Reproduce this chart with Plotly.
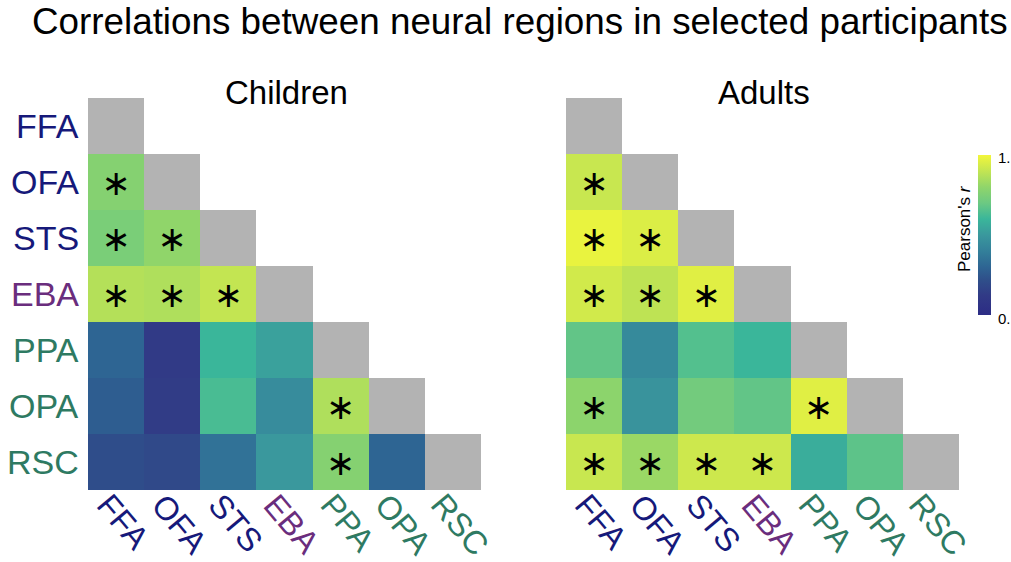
import plotly.graph_objects as go

regions = ["FFA", "OFA", "STS", "EBA", "PPA", "OPA", "RSC"]
label_colors = ["#16197a", "#16197a", "#16197a", "#6a2d7d", "#2e7a62", "#2e7a62", "#2e7a62"]

children_r = [
    [None, None, None, None, None, None, None],
    [0.77, None, None, None, None, None, None],
    [0.74, 0.80, None, None, None, None, None],
    [0.87, 0.86, 0.90, None, None, None, None],
    [0.30, 0.12, 0.60, 0.53, None, None, None],
    [0.27, 0.13, 0.63, 0.45, 0.86, None, None],
    [0.21, 0.19, 0.35, 0.50, 0.77, 0.30, None],
]
children_sig = [
    [0, 0, 0, 0, 0, 0, 0],
    [1, 0, 0, 0, 0, 0, 0],
    [1, 1, 0, 0, 0, 0, 0],
    [1, 1, 1, 0, 0, 0, 0],
    [0, 0, 0, 0, 0, 0, 0],
    [0, 0, 0, 0, 1, 0, 0],
    [0, 0, 0, 0, 1, 0, 0],
]
adults_r = [
    [None, None, None, None, None, None, None],
    [0.91, None, None, None, None, None, None],
    [0.98, 0.95, None, None, None, None, None],
    [0.93, 0.89, 0.96, None, None, None, None],
    [0.68, 0.44, 0.65, 0.60, None, None, None],
    [0.79, 0.48, 0.72, 0.68, 0.96, None, None],
    [0.91, 0.82, 0.92, 0.92, 0.57, 0.67, None],
]
adults_sig = [
    [0, 0, 0, 0, 0, 0, 0],
    [1, 0, 0, 0, 0, 0, 0],
    [1, 1, 0, 0, 0, 0, 0],
    [1, 1, 1, 0, 0, 0, 0],
    [0, 0, 0, 0, 0, 0, 0],
    [1, 0, 0, 0, 1, 0, 0],
    [1, 1, 1, 1, 0, 0, 0],
]
colorbar_ticks = ["0.", "1."]

colorscale = [
    [0.00, "#2c2c85"],
    [0.12, "#313a86"],
    [0.22, "#2f4f8a"],
    [0.30, "#2e6593"],
    [0.40, "#33809a"],
    [0.50, "#3a989d"],
    [0.60, "#3ab69a"],
    [0.70, "#6cc982"],
    [0.80, "#90d56a"],
    [0.90, "#c3e552"],
    [1.00, "#f3f63a"],
]

FONT = "Liberation Sans"
W, H = 1011, 562
STAR_DY = 0.08  # asterisk sits slightly below the cell centre


def px(x):
    return x / W


def py(y):
    return 1 - y / H


idx = list(range(len(regions)))
diag = [[1 if i == j else None for j in idx] for i in idx]

fig = go.Figure()

annotations = []
for k, (vals, sig) in enumerate([(children_r, children_sig), (adults_r, adults_sig)]):
    xa = "x" if k == 0 else "x2"
    ya = "y" if k == 0 else "y2"
    fig.add_trace(go.Heatmap(
        z=diag, x=idx, y=idx, xaxis=xa, yaxis=ya,
        colorscale=[[0, "#b3b3b3"], [1, "#b3b3b3"]], showscale=False,
        hoverinfo="skip"))
    fig.add_trace(go.Heatmap(
        z=vals, x=idx, y=idx, xaxis=xa, yaxis=ya,
        colorscale=colorscale, zmin=0, zmax=1,
        showscale=(k == 1),
        colorbar=dict(
            x=px(978), xanchor="left", xpad=0, ypad=0,
            y=py(235), yanchor="middle", len=160 / H, lenmode="fraction",
            thickness=13, outlinewidth=0, ticks="", showticklabels=False,
        ),
    ))
    sx, sy = [], []
    for i in idx:
        for j in idx:
            if sig[i][j]:
                sx.append(j)
                sy.append(i + STAR_DY)
    fig.add_trace(go.Scatter(
        x=sx, y=sy, xaxis=xa, yaxis=ya, mode="text",
        text=["∗"] * len(sx), textposition="middle center",
        textfont=dict(family="DejaVu Sans", size=35, color="#000"),
        hoverinfo="skip", showlegend=False))
    # rotated x labels
    for j, (r, c) in enumerate(zip(regions, label_colors)):
        annotations.append(dict(
            text=r, x=j, xref=xa, y=py(486), yref="paper", xshift=7,
            xanchor="center", yanchor="top", textangle=50, showarrow=False,
            borderpad=0,
            font=dict(family=FONT, size=32.5, color=c)))

# y labels (left panel)
for i, (r, c) in enumerate(zip(regions, label_colors)):
    annotations.append(dict(
        text=r, x=px(81), xref="paper", y=i, yref="y",
        xanchor="right", yanchor="middle", showarrow=False,
        font=dict(family=FONT, size=34, color=c)))

annotations += [
    dict(text="Correlations between neural regions in selected participants",
         x=px(520), y=py(22), xref="paper", yref="paper", showarrow=False,
         xanchor="center", yanchor="middle",
         font=dict(family=FONT, size=36.8, color="#000")),
    dict(text="Children", x=px(286), y=py(92), xref="paper", yref="paper",
         showarrow=False, xanchor="center", yanchor="middle",
         font=dict(family=FONT, size=33, color="#000")),
    dict(text="Adults", x=px(764), y=py(92), xref="paper", yref="paper",
         showarrow=False, xanchor="center", yanchor="middle",
         font=dict(family=FONT, size=33, color="#000")),
    dict(text="Pearson's <i>r</i>", x=px(964), y=py(229), xref="paper", yref="paper",
         showarrow=False, xanchor="center", yanchor="middle", textangle=-90,
         font=dict(family=FONT, size=17, color="#000")),
    dict(text=colorbar_ticks[1], x=px(996), y=py(157), xref="paper", yref="paper",
         showarrow=False, xanchor="left", yanchor="middle",
         font=dict(family=FONT, size=15, color="#000")),
    dict(text=colorbar_ticks[0], x=px(996), y=py(318), xref="paper", yref="paper",
         showarrow=False, xanchor="left", yanchor="middle",
         font=dict(family=FONT, size=15, color="#000")),
]

common_x = dict(showticklabels=False, showgrid=False, zeroline=False,
                showline=False, ticks="", automargin=False,
                range=[-0.5, 6.5], autorange=False)
common_y = dict(range=[6.5, -0.5], autorange=False, showgrid=False, zeroline=False,
                showline=False, ticks="", automargin=False, showticklabels=False,
                domain=[py(490), py(98)])

fig.update_layout(
    width=W, height=H,
    margin=dict(l=0, r=0, t=0, b=0),
    paper_bgcolor="white", plot_bgcolor="white",
    showlegend=False,
    xaxis=dict(domain=[px(88), px(481)], anchor="y", **common_x),
    xaxis2=dict(domain=[px(566), px(959)], anchor="y2", **common_x),
    yaxis=dict(anchor="x", **common_y),
    yaxis2=dict(anchor="x2", **common_y),
    annotations=annotations,
)

fig.write_html("out.html", config={"displayModeBar": False},
               post_script="document.body.style.margin='0px';")
